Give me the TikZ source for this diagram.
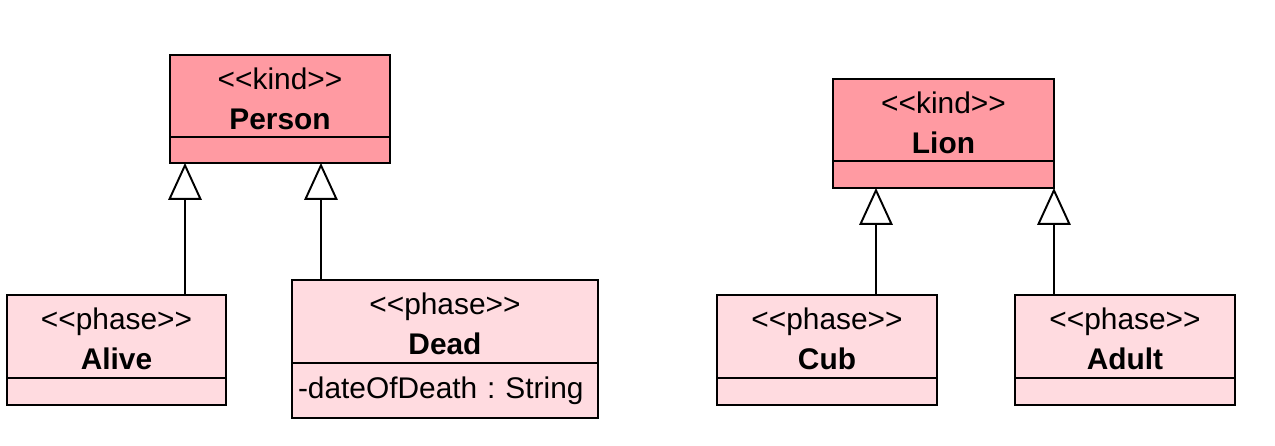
\documentclass[tikz,border=0pt]{standalone}
\usepackage{fontspec}
\setmainfont{Liberation Sans}
\usetikzlibrary{arrows.meta}
\usetikzlibrary{positioning}

\definecolor{kindfill}{RGB}{255,154,162}
\definecolor{phasefill}{RGB}{255,219,224}
\newcommand{\stereo}[1]{\rule{0pt}{15.2pt}<{}<#1>{}>}
\newcommand{\clsname}[1]{{\fontsize{17}{20}\selectfont\bfseries #1}}
\frenchspacing

\begin{document}
\begin{tikzpicture}[
    x=0.02cm, y=-0.02cm,
    node distance=0pt,
    box/.style={rectangle, draw=black, line width=1.1pt, inner sep=0pt, outer sep=0pt, align=center, font=\fontsize{17}{20}\selectfont},
    kindhead/.style={box, fill=kindfill, anchor=north west, minimum height=1.64cm},
    phasehead/.style={box, fill=phasefill, anchor=north west, minimum height=1.66cm},
    attbox/.style={box, minimum height=0.54cm},
    gen/.style={-{Triangle[open, length=21pt, width=19pt]}, line width=1.1pt}
]
\useasboundingbox (0,0) rectangle (1275,446);

% kinds
\node[kindhead, minimum width=4.4cm] (person) at (170,55) {\stereo{kind}\\[2.7pt]\clsname{Person}};
\node[attbox, fill=kindfill, minimum width=4.4cm, minimum height=0.52cm, below=of person] (person-c) {};

\node[kindhead, minimum width=4.42cm] (lion) at (833,79) {\stereo{kind}\\[2.7pt]\clsname{Lion}};
\node[attbox, fill=kindfill, minimum width=4.42cm, below=of lion] (lion-c) {};

% phases
\node[phasehead, minimum width=4.38cm] (alive) at (7,295) {\stereo{phase}\\[2.7pt]\clsname{Alive}};
\node[attbox, fill=phasefill, minimum width=4.38cm, below=of alive] (alive-c) {};

\node[phasehead, minimum width=6.12cm] (dead) at (292,280) {\stereo{phase}\\[2.7pt]\clsname{Dead}};
\node[attbox, fill=phasefill, minimum height=1.1cm, text width=5.88cm, inner xsep=0.12cm, align=left, below=of dead] (dead-c) {-dateOfDeath : String};

\node[phasehead, minimum width=4.4cm] (cub) at (717,295) {\stereo{phase}\\[2.7pt]\clsname{Cub}};
\node[attbox, fill=phasefill, minimum width=4.4cm, below=of cub] (cub-c) {};

\node[phasehead, minimum width=4.4cm] (adult) at (1015,295) {\stereo{phase}\\[2.7pt]\clsname{Adult}};
\node[attbox, fill=phasefill, minimum width=4.4cm, below=of adult] (adult-c) {};

% generalizations
\coordinate (person-l) at ([xshift=0.3cm]person-c.south west);
\coordinate (person-r) at ([xshift=3.02cm]person-c.south west);
\coordinate (lion-l) at ([xshift=0.86cm]lion-c.south west);

\draw[gen] (person-l |- alive.north) -- (person-l);
\draw[gen] (person-r |- dead.north) -- (person-r);
\draw[gen] (lion-l |- cub.north) -- (lion-l);
\draw[gen] (lion-c.south east |- adult.north) -- (lion-c.south east);
\end{tikzpicture}
\end{document}
